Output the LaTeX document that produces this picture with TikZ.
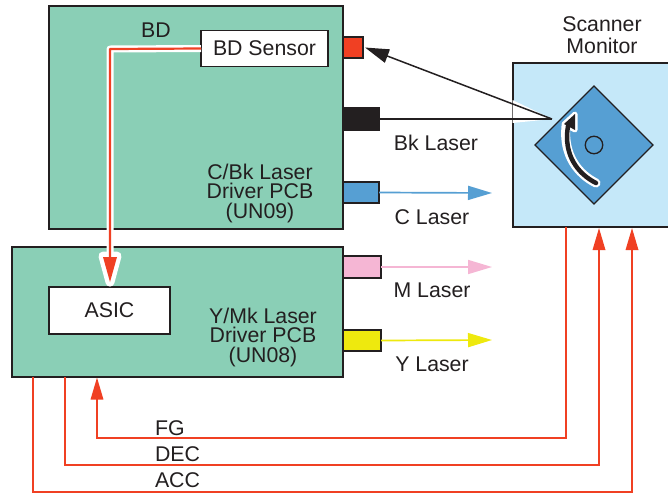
\documentclass[tikz,border=0pt]{standalone}
\usepackage{fontspec}
\setmainfont{Liberation Sans}
\usetikzlibrary{arrows.meta,calc}
\definecolor{ink}{HTML}{231F20}
\definecolor{pcbgreen}{HTML}{8ACFB6}
\definecolor{scanblue}{HTML}{C5E8F9}
\definecolor{mirror}{HTML}{569FD3}
\definecolor{sigred}{HTML}{F04023}
\definecolor{lpink}{HTML}{F5B6D4}
\definecolor{lyellow}{HTML}{EEE90E}
\tikzset{
  x=1pt,y=-1pt,
  every node/.style={font=\fontsize{21.3pt}{19.5pt}\selectfont,text=ink,inner sep=0pt,outer sep=0pt},
  block/.style={draw=ink,line width=1.6pt,rectangle},
  pcb/.style={block,fill=pcbgreen},
  whitebox/.style={block,fill=white},
  port/.style={block},
  label/.style={align=center},
  sig/.style={draw=sigred,line width=1.7pt},
  sigtip/.style={-{Triangle[length=22pt,width=12.5pt]}},
  laser/.style={line width=1.7pt,-{Triangle[length=24pt,width=14pt]}},
}
\newcommand{\boxat}[6]{\node[#1,minimum width=#5-#3,minimum height=#6-#4] (#2) at ({(#3+#5)/2},{(#4+#6)/2}) {};}
\begin{document}
\begin{tikzpicture}
\useasboundingbox (0,0) rectangle (668,493);
% PCB boxes
\boxat{pcb}{top}{49}{6}{343}{229}
\boxat{pcb}{low}{12}{247}{343}{377}
% ports
\boxat{port,fill=sigred}{pred}{343}{37}{363}{58}
\boxat{port,fill=ink}{pblack}{343}{108}{379}{130}
\boxat{port,fill=mirror}{pblue}{343}{182}{379}{203}
\boxat{port,fill=lpink}{ppink}{343}{256}{381}{278}
\boxat{port,fill=lyellow}{pyellow}{343}{330}{381}{351}
% scanner
\fill[scanblue] (513,63) rectangle (668,227);
\draw[ink,line width=1.6pt] (668,63) -- (513,63) -- (513,227) -- (668,227);
\coordinate (scanS) at (566,227);
\coordinate (scanD) at (599,228);
\coordinate (scanA) at (632,228);
% mirror
\node[draw=ink,line width=1.3pt,fill=mirror,shape=rectangle,minimum size=83.4pt,rotate=45] (mir) at (594,145) {};
\node[draw=ink,line width=1.3pt,circle,minimum size=17.5pt] (axis) at (594,145) {};
% rotation arrow
\coordinate (rotS) at (596,183);
\coordinate (rotE) at (575,114);
\draw[white,line width=9pt,line cap=round] (rotS) .. controls (578,174) and (563,155) .. (566,126);
\fill[white,line join=round,draw=white,line width=5pt] (rotE) -- (564,124) -- (575,130) -- cycle;
\draw[ink,line width=4.5pt,line cap=round] (rotS) .. controls (578,174) and (563,155) .. (568,126);
\fill[ink] (rotE) -- (564,124) -- (575,130) -- cycle;
% beams
\coordinate (hit) at (552,119);
\fill[white] (hit) -- (512.5,100) -- (512.5,123) -- cycle;
\draw[ink,line width=1.5pt] (pblack.east) -- (hit);
\draw[ink,line width=1.5pt,-{Triangle[length=24pt,width=14pt]}] (hit) -- ($(pred.east)+(2,0)$);
% laser arrows
\coordinate (ctip) at (492,193);
\coordinate (mtip) at (492,267);
\coordinate (ytip) at (492,340);
\draw[mirror,laser] (pblue.east) -- (ctip);
\draw[lpink,laser] (ppink.east) -- (mtip);
\draw[lyellow,laser] (pyellow.east) -- (ytip);
% inner boxes
\node[whitebox,minimum width=127pt,minimum height=36pt] (sensor) at (264.5,48.5) {BD Sensor};
\node[whitebox,minimum width=121pt,minimum height=47pt] (asic) at (109.5,310.5) {ASIC};
% BD signal
\coordinate (bend) at (110,49);
\coordinate (asictip) at (110,282);
\draw[white,line width=7pt,line join=round] (sensor.west) -- (bend) -- (110,260);
\fill[white,draw=white,line width=9pt,line join=round] (asictip) -- (103,256) -- (117,256) -- cycle;
\draw[sigred,line width=2.2pt,line join=round] (sensor.west) -- (bend) -- (110,258);
\fill[sigred] (asictip) -- (103,257) -- (117,257) -- cycle;
% FG DEC ACC
\coordinate (fgL) at (97,377.5);
\coordinate (decL) at (65,377);
\coordinate (accL) at (33,377);
\draw[sig,sigtip] (scanS) -- (566,438) -- (97,438) -- (fgL);
\draw[sig,sigtip] (decL) -- (65,465) -- (599,465) -- (scanD);
\draw[sig,sigtip] (accL) -- (33,492) -- (632,492) -- (scanA);
% labels
\node (tbd) at (156,30) {BD};
\node[label] (t1) at (260,193) {C/Bk Laser\\Driver PCB\\(UN09)};
\node[label] (t2) at (263,337) {Y/Mk Laser\\Driver PCB\\(UN08)};
\node[label,font=\fontsize{21.3pt}{22pt}\selectfont] (t3) at (602,35) {Scanner\\Monitor};
\node (tbk) at (436,143) {Bk Laser};
\node (tc) at (432,217) {C Laser};
\node (tm) at (432,290) {M Laser};
\node (ty) at (432,364) {Y Laser};
\node[anchor=west] (tfg) at (155,428) {FG};
\node[anchor=west] (tdec) at (155,454) {DEC};
\node[anchor=west] (tacc) at (155,480) {ACC};
\end{tikzpicture}
\end{document}
